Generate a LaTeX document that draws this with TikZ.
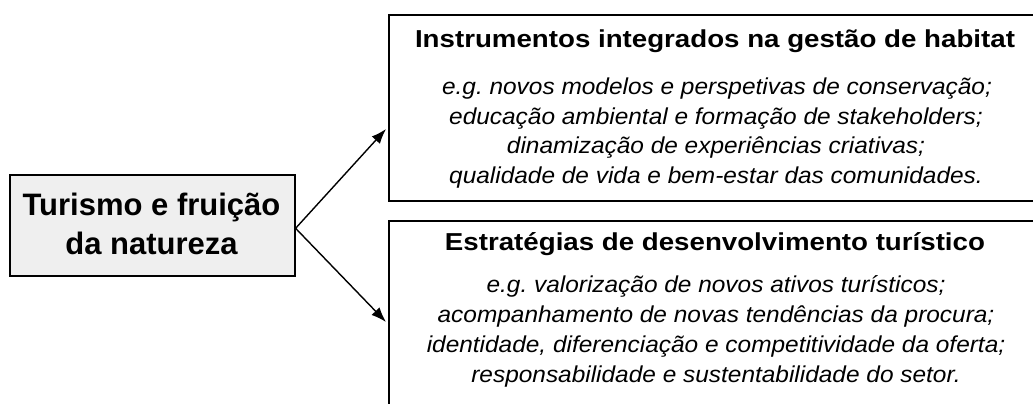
\documentclass[tikz,border=0pt]{standalone}
\usepackage{graphicx}
\usepackage{fontspec}
\setmainfont{Liberation Sans}
\usetikzlibrary{arrows.meta}
\definecolor{boxgray}{HTML}{EFEFEF}
\newcommand{\widetitle}[1]{\scalebox{1.13}[1]{#1}}
\newcommand{\wideitem}[1]{\scalebox{1.062}[1]{#1}}
\tikzset{
  framebox/.style={draw=black, line width=1.6pt, rectangle, inner sep=0pt},
  titletext/.style={font=\fontsize{24.5}{28}\selectfont\bfseries, inner sep=0pt, anchor=base},
  itemtext/.style={font=\fontsize{23}{27}\selectfont\itshape, inner sep=0pt, anchor=base},
  maintext/.style={font=\fontsize{31}{39}\selectfont\bfseries, inner sep=0pt, anchor=base},
  conn/.style={line width=1.4pt, -{Latex[length=15pt,width=11pt]}}
}
\begin{document}
\begin{tikzpicture}[x=1pt,y=-1pt]
\useasboundingbox (0,0) rectangle (1033,404);
\clip (0,0) rectangle (1033,404);
% left box
\node[framebox, fill=boxgray, minimum width=285pt, minimum height=101pt, anchor=north west] (left) at (9,174) {};
\node[maintext] (l1) at (151.5,215) {Turismo e fruição};
\node[maintext] (l2) at (151.5,254) {da natureza};
% top box
\node[framebox, minimum width=652pt, minimum height=186pt, anchor=north west] (top) at (388,14) {};
\node[titletext] (t0) at (715,48) {\widetitle{Instrumentos integrados na gestão de habitat}};
\node[itemtext] (t1) at (717,94) {\wideitem{e.g.\ novos modelos e perspetivas de conservação;}};
\node[itemtext] (t2) at (716,124) {\wideitem{educação ambiental e formação de stakeholders;}};
\node[itemtext] (t3) at (716,153.5) {\wideitem{dinamização de experiências criativas;}};
\node[itemtext] (t4) at (716,183) {\wideitem{qualidade de vida e bem-estar das comunidades.}};
% bottom box
\node[framebox, minimum width=652pt, minimum height=200pt, anchor=north west] (bot) at (388,220) {};
\node[titletext] (b0) at (715,250) {\widetitle{Estratégias de desenvolvimento turístico}};
\node[itemtext] (b1) at (716,292) {\wideitem{e.g.\ valorização de novos ativos turísticos;}};
\node[itemtext] (b2) at (716,322) {\wideitem{acompanhamento de novas tendências da procura;}};
\node[itemtext] (b3) at (716,352) {\wideitem{identidade, diferenciação e competitividade da oferta;}};
\node[itemtext] (b4) at (716,382) {\wideitem{responsabilidade e sustentabilidade do setor.}};
% connectors
\coordinate (ta) at (386,129);
\coordinate (ba) at (386,322);
\draw[conn] ([yshift=-3pt]left.east) -- (ta);
\draw[conn] ([yshift=-3pt]left.east) -- (ba);
\end{tikzpicture}
\end{document}
